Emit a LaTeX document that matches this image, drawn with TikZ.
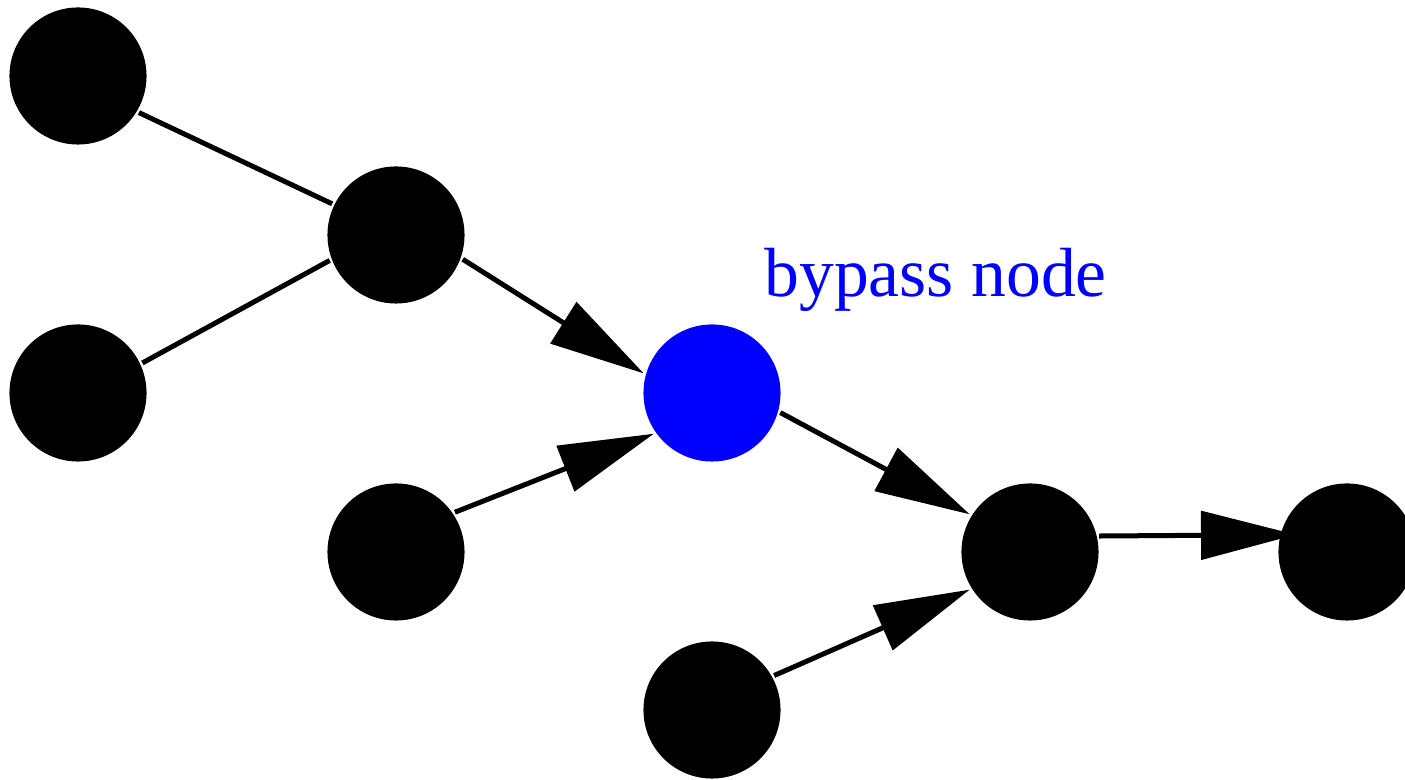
\documentclass[tikz,border=0pt]{standalone}
\usepackage{fontspec}
\setmainfont{Liberation Serif}
\usetikzlibrary{arrows.meta}

\begin{document}
\begin{tikzpicture}[x=0.01cm, y=-0.01cm, line width=0.05cm,
    >={Triangle[length=0.95cm, width=0.48cm]},
    dot/.style={circle, fill=black, inner sep=0pt, minimum size=1.37cm},
    bypass/.style={dot, fill=blue}]
    % page size as in the reference
    \useasboundingbox (0,0) rectangle (1405,780);

    % nodes of the graph
    \node[dot] (A) at (78,76) {};
    \node[dot] (B) at (78,393) {};
    \node[dot] (C) at (396,235) {};
    \node[dot] (D) at (396,552) {};
    \node[bypass] (E) at (712,393) {};
    \node[dot] (F) at (1030,552) {};
    \node[dot] (G) at (712,710) {};
    \node[dot] (H) at (1347,552) {};

    % label of the blue node
    \node[blue, anchor=base west, inner sep=0pt, font=\fontsize{19.8}{24}\selectfont] (L) at (762,297) {bypass node};

    % plain edges
    \draw (A.-31) -- (C.154);
    \draw (B.25) -- (C.-159);

    % directed edges
    \draw[->] (C.-20) -- (E.164);
    \draw[->] (D.34) -- (E.-145);
    \draw[->] (E.-16) -- (F.148);
    \draw[->] (G.29) -- (F.-148);
    \draw[->, shorten >=-0.18cm] (F.13) -- (H.166.5);
\end{tikzpicture}
\end{document}
